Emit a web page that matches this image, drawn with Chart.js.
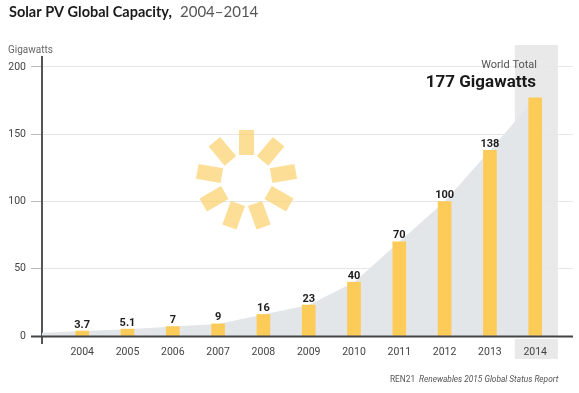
<!DOCTYPE html>
<html>
<head>
<meta charset="utf-8">
<title>Solar PV Global Capacity, 2004–2014</title>
<script src="https://cdn.jsdelivr.net/npm/chart.js@4"></script>
<style>
  html, body { margin: 0; padding: 0; background: #fff; }
  #wrap { width: 579px; height: 393px; }
</style>
</head>
<body>
<div id="wrap"><canvas id="solarChart" width="579" height="393"></canvas></div>
<script>
const years = [2004, 2005, 2006, 2007, 2008, 2009, 2010, 2011, 2012, 2013, 2014];
const capacity = [3.7, 5.1, 7, 9, 16, 23, 40, 70, 100, 138, 177];
const capacityLabels = ["3.7", "5.1", "7", "9", "16", "23", "40", "70", "100", "138", "177"];
const yTicks = [0, 50, 100, 150, 200];
const areaStart = { x: 2003.113, y: 2.5 };

const sans = "Roboto, sans-serif";

// band behind 2014, sun decoration and the loose text
const extras = {
  id: "extras",
  beforeDraw(chart) {
    const { ctx, scales } = chart;
    const x0 = scales.x.getPixelForValue(2013.55);
    const x1 = scales.x.getPixelForValue(2014.5);
    const zero = scales.y.getPixelForValue(0);
    ctx.save();
    ctx.fillStyle = "#e9e9e9";
    ctx.fillRect(x0, 45, x1 - x0, zero - 45);
    ctx.fillRect(x0, zero + 3, x1 - x0, 359 - zero - 3);
    ctx.restore();
  },
  beforeDatasetDraw(chart, args) {
    if (args.index === 1) chart.ctx.globalCompositeOperation = "multiply";
  },
  afterDatasetDraw(chart, args) {
    if (args.index === 1) chart.ctx.globalCompositeOperation = "source-over";
  },
  afterDatasetsDraw(chart) {
    const { ctx, scales, chartArea } = chart;
    ctx.save();

    // baseline has to sit on top of the bars
    const zero = Math.round(scales.y.getPixelForValue(0));
    ctx.fillStyle = "#444";
    ctx.fillRect(chartArea.left - 11, zero - 0.5, chartArea.right - chartArea.left + 11, 2);

    // sun
    ctx.translate(246.5, 180);
    ctx.fillStyle = "rgba(251, 209, 110, 0.72)";
    for (let i = 0; i < 9; i++) {
      ctx.save();
      ctx.rotate((i * 40 * Math.PI) / 180);
      ctx.fillRect(-7.5, -50, 15, 25);
      ctx.restore();
    }
    ctx.restore();

    ctx.save();
    // value labels
    ctx.fillStyle = "#1c1c1c";
    ctx.font = "bold 11px " + sans;
    ctx.textAlign = "center";
    ctx.textBaseline = "alphabetic";
    years.forEach((year, i) => {
      if (year === 2014) return;
      ctx.fillText(
        capacityLabels[i],
        scales.x.getPixelForValue(year),
        scales.y.getPixelForValue(capacity[i]) - 3.5
      );
    });

    // title
    ctx.textAlign = "left";
    ctx.fillStyle = "#1a1a1a";
    ctx.font = "bold 14.5px Lato";
    ctx.fillText("Solar PV Global Capacity,", 9, 17);
    ctx.fillStyle = "#555";
    ctx.font = "15px Lato";
    ctx.fillText("2004–2014", 180, 17);

    ctx.fillStyle = "#666";
    ctx.font = "10px " + sans;
    ctx.fillText("Gigawatts", 8, 53);

    // world total
    ctx.textAlign = "right";
    ctx.fillStyle = "#555";
    ctx.font = "11px " + sans;
    ctx.fillText("World Total", 537, 68);
    ctx.fillStyle = "#1a1a1a";
    ctx.font = "bold 17px " + sans;
    ctx.fillText("177 Gigawatts", 536, 87);

    // source
    ctx.textAlign = "left";
    ctx.fillStyle = "#555";
    ctx.font = "8.3px " + sans;
    ctx.fillText("REN21", 390, 382);
    ctx.font = "italic 8.3px " + sans;
    ctx.fillText("Renewables 2015 Global Status Report", 419, 382);
    ctx.restore();
  },
};

new Chart(document.getElementById("solarChart"), {
  type: "bar",
  data: {
    datasets: [
      {
        type: "bar",
        data: years.map((year, i) => ({ x: year, y: capacity[i] })),
        backgroundColor: "#fdcb57",
        barThickness: 13,
        order: 1,
      },
      {
        type: "line",
        data: [areaStart].concat(years.map((year, i) => ({ x: year, y: capacity[i] }))),
        borderWidth: 0,
        pointRadius: 0,
        tension: 0,
        fill: "origin",
        backgroundColor: "#e3e6e9",
        order: 2,
      },
    ],
  },
  plugins: [extras],
  options: {
    responsive: false,
    animation: false,
    layout: { padding: { top: 57, right: 6, left: 0, bottom: 0 } },
    plugins: { legend: { display: false }, tooltip: { enabled: false } },
    scales: {
      x: {
        type: "linear",
        offset: false,
        min: 2003.113,
        max: 2014.834,
        afterBuildTicks(scale) {
          scale.ticks = years.map((year) => ({ value: year }));
        },
        afterFit(scale) {
          scale.height = 50;
        },
        grid: { display: false, drawTicks: false, offset: false },
        border: { display: false },
        ticks: {
          autoSkip: false,
          maxRotation: 0,
          padding: 3,
          color: "#444",
          font: { family: sans, size: 10.5 },
          callback: (value) => String(value),
        },
      },
      y: {
        min: -5.2,
        max: 207.43,
        afterBuildTicks(scale) {
          scale.ticks = yTicks.map((value) => ({ value }));
        },
        afterFit(scale) {
          scale.width = 42;
        },
        grid: {
          color: (c) => (c.tick && c.tick.value === 0 ? "#444" : "#e6e6e6"),
          tickColor: (c) => (c.tick && c.tick.value === 0 ? "#444" : "#bbb"),
          tickLength: 11,
        },
        border: { display: true, color: "#555", width: 2 },
        ticks: {
          padding: 5,
          color: "#444",
          font: { family: sans, size: 10.5 },
          callback: (value) => String(value),
        },
      },
    },
  },
});
</script>
</body>
</html>
